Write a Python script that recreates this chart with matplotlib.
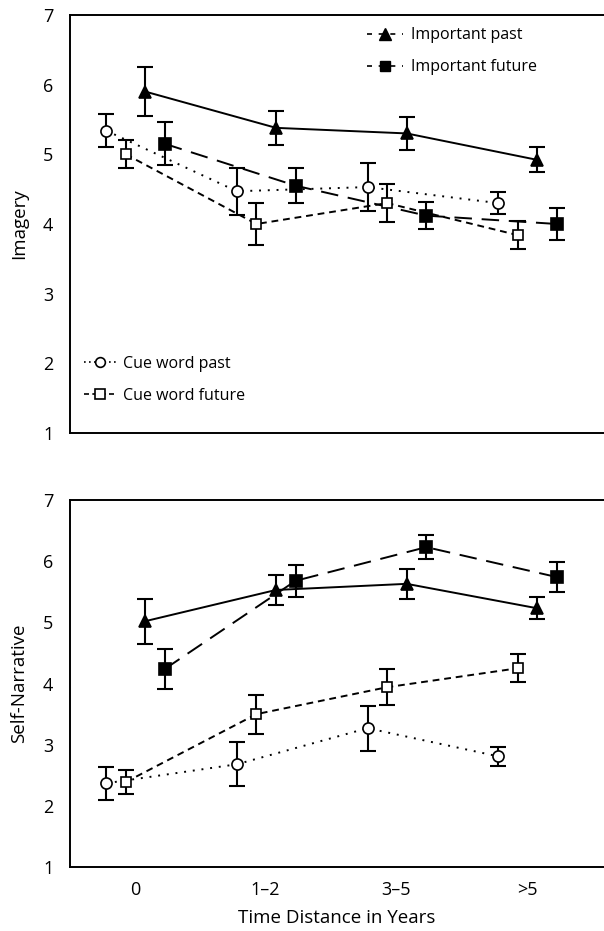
import numpy as np
import matplotlib
matplotlib.use("Agg")
import matplotlib.pyplot as plt
from matplotlib.lines import Line2D

plt.rcParams['font.family'] = ['Open Sans', 'DejaVu Sans']

categories = ['0', '1–2', '3–5', '>5']

# Imagery (top panel)
img_imp_past = [5.90, 5.38, 5.30, 4.92]
img_imp_past_err = [0.35, 0.24, 0.24, 0.18]
img_imp_future = [5.15, 4.55, 4.12, 4.00]
img_imp_future_err = [0.31, 0.25, 0.19, 0.23]
img_cue_past = [5.34, 4.47, 4.53, 4.30]
img_cue_past_err = [0.24, 0.34, 0.35, 0.16]
img_cue_future = [5.00, 4.00, 4.30, 3.84]
img_cue_future_err = [0.20, 0.30, 0.27, 0.20]

# Self-narrative (bottom panel)
sn_imp_past = [5.02, 5.53, 5.63, 5.23]
sn_imp_past_err = [0.37, 0.25, 0.25, 0.18]
sn_imp_future = [4.24, 5.68, 6.23, 5.74]
sn_imp_future_err = [0.33, 0.26, 0.20, 0.25]
sn_cue_past = [2.37, 2.68, 3.27, 2.81]
sn_cue_past_err = [0.27, 0.36, 0.37, 0.16]
sn_cue_future = [2.39, 3.50, 3.94, 4.25]
sn_cue_future_err = [0.20, 0.32, 0.29, 0.23]

x = np.arange(len(categories))

# series style: offset, linestyle, marker, facecolor, markersize
styles = {
    'cue_past':   (-0.22, (0, (1, 3.5)), 'o', 'white', 8),
    'cue_future': (-0.07, (0, (3.5, 2.5)), 's', 'white', 7.5),
    'imp_past':   (0.08, '-', '^', 'black', 9),
    'imp_future': (0.23, (0, (9, 5)), 's', 'black', 8),
}


def draw(ax, data):
    for key, (vals, errs) in data.items():
        off, ls, mk, fc, ms = styles[key]
        xs = x + off
        ax.plot(xs, vals, color='black', lw=1.4, linestyle=ls, zorder=2)
        ax.errorbar(xs, vals, yerr=errs, fmt='none', ecolor='black',
                    elinewidth=1.5, capsize=5.5, capthick=1.5, zorder=3)
        ax.plot(xs, vals, linestyle='none', marker=mk, markersize=ms,
                markerfacecolor=fc, markeredgecolor='black',
                markeredgewidth=1.2, zorder=4)


def style_axes(ax, ylabel):
    ax.set_xlim(-0.497, 3.59)
    ax.set_ylim(1, 7)
    ax.set_yticks(range(1, 8))
    ax.spines['right'].set_visible(False)
    for s in ['left', 'top', 'bottom']:
        ax.spines[s].set_linewidth(1.4)
    ax.tick_params(axis='both', length=0, labelsize=13, pad=12)
    ax.set_ylabel(ylabel, fontsize=13.5, labelpad=11)


fig = plt.figure(figsize=(6.04, 9.31), dpi=100)
ax1 = fig.add_axes([0.1159, 0.5349, 0.8841, 0.4490])
ax2 = fig.add_axes([0.1159, 0.0687, 0.8841, 0.3942])

draw(ax1, {'cue_past': (img_cue_past, img_cue_past_err),
           'cue_future': (img_cue_future, img_cue_future_err),
           'imp_future': (img_imp_future, img_imp_future_err),
           'imp_past': (img_imp_past, img_imp_past_err)})
draw(ax2, {'cue_past': (sn_cue_past, sn_cue_past_err),
           'cue_future': (sn_cue_future, sn_cue_future_err),
           'imp_future': (sn_imp_future, sn_imp_future_err),
           'imp_past': (sn_imp_past, sn_imp_past_err)})

style_axes(ax1, 'Imagery')
style_axes(ax2, 'Self-Narrative')
ax1.set_xticks(x)
ax1.set_xticklabels([])
ax2.set_xticks(x)
ax2.set_xticklabels(categories)
ax2.tick_params(axis='x', pad=10)
ax2.set_xlabel('Time Distance in Years', fontsize=13.5, labelpad=7)

h_imp_past = Line2D([], [], color='black', lw=1.2, linestyle=(0, (3, 4)),
                    marker='^', markersize=9, markerfacecolor='black',
                    markeredgecolor='black')
h_imp_future = Line2D([], [], color='black', lw=1.2, linestyle=(0, (3, 4)),
                      marker='s', markersize=7.5, markerfacecolor='black',
                      markeredgecolor='black')
h_cue_past = Line2D([], [], color='black', lw=1.2, linestyle=(0, (1, 2)),
                    marker='o', markersize=7, markerfacecolor='white',
                    markeredgecolor='black', markeredgewidth=1.2)
h_cue_future = Line2D([], [], color='black', lw=1.2, linestyle=(0, (3, 2)),
                      marker='s', markersize=7, markerfacecolor='white',
                      markeredgecolor='black', markeredgewidth=1.2)

leg1 = ax1.legend([h_imp_past, h_imp_future], ['Important past', 'Important future'],
                  loc='upper left', bbox_to_anchor=(0.53, 1.005), frameon=False,
                  fontsize=11.5, handlelength=2.2, handletextpad=0.5,
                  labelspacing=1.0)
ax1.add_artist(leg1)
ax1.legend([h_cue_past, h_cue_future], ['Cue word past', 'Cue word future'],
           loc='lower left', bbox_to_anchor=(0.0, 0.035), frameon=False,
           fontsize=11.5, handlelength=2.0, handletextpad=0.4,
           labelspacing=1.0)

fig.savefig('out.png', dpi=100)
